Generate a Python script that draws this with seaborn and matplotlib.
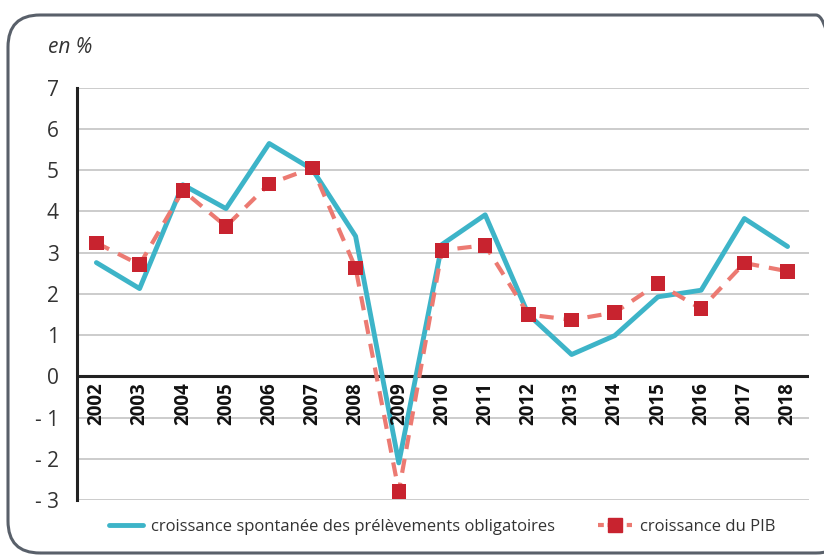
import pandas as pd
import matplotlib.pyplot as plt
import seaborn as sns
from matplotlib.patches import FancyBboxPatch
from matplotlib.lines import Line2D

# Data
years = list(range(2002, 2019))
spontanee = [2.76, 2.13, 4.65, 4.07, 5.65, 5.02, 3.40, -2.10, 3.20, 3.92,
             1.50, 0.53, 0.99, 1.93, 2.09, 3.83, 3.15]
pib = [3.24, 2.71, 4.51, 3.64, 4.67, 5.06, 2.63, -2.79, 3.06, 3.18,
       1.50, 1.37, 1.55, 2.25, 1.64, 2.75, 2.55]
label_spont = "croissance spontanée des prélèvements obligatoires"
label_pib = "croissance du PIB"
y_ticks = [-3, -2, -1, 0, 1, 2, 3, 4, 5, 6, 7]

df = pd.DataFrame({"annee": years, "spont": spontanee, "pib": pib})

teal = "#3DB4C8"
red_line = "#EC7A72"
red_mark = "#C8232F"

sns.set_style("white")
plt.rcParams['font.family'] = ['Open Sans', 'DejaVu Sans']

W, H = 824, 556
fig = plt.figure(figsize=(W / 100, H / 100), dpi=100)
ax = fig.add_axes([0.0934, 0.1007, 0.8886, 0.7413])

# grid lines
for t in y_ticks:
    ax.axhline(t, color="#c4c4c4", lw=1.2, zorder=0)
ax.axhline(0, color="#222222", lw=2.2, zorder=1)

sns.lineplot(data=df, x="annee", y="spont", ax=ax, color=teal, lw=3.5, zorder=3)
sns.lineplot(data=df, x="annee", y="pib", ax=ax, color=red_line, lw=3,
             linestyle=(0, (3.4, 2.4)), zorder=4)
sns.scatterplot(data=df, x="annee", y="pib", ax=ax, color=red_mark, marker="s",
                s=110, edgecolor="none", zorder=5)

ax.set_xlim(2001.55, 2018.5)
ax.set_ylim(-3, 7)
ax.set_yticks(y_ticks)
ax.set_yticklabels([("- %d" % -t) if t < 0 else str(t) for t in y_ticks],
                   fontsize=15, color="#333333")
ax.tick_params(axis="y", length=0, pad=13)
ax.set_xticks([])
ax.set_xlabel("")
ax.set_ylabel("")

for s in ["top", "right", "bottom"]:
    ax.spines[s].set_visible(False)
ax.spines["left"].set_color("#222222")
ax.spines["left"].set_linewidth(2.2)

# year labels under the zero line
for yr in years:
    ax.text(yr, -0.15, str(yr), rotation=90, ha="center", va="top",
            fontsize=13.5, fontweight="bold", color="#111111")

fig.text(0.058, 0.905, "en %", fontsize=15, style="italic", color="#333333")

handles = [
    Line2D([0], [0], color=teal, lw=3.5),
    Line2D([0], [0], color=red_line, lw=3, linestyle=(0, (1.4, 0.9)),
           marker="s", markersize=10, markerfacecolor=red_mark,
           markeredgecolor=red_mark),
]
fig.legend(handles, [label_spont, label_pib], loc="center",
           bbox_to_anchor=(0.537, 0.052), ncol=2, frameon=False,
           fontsize=12, handlelength=2.0, handletextpad=0.5,
           columnspacing=2.6, labelcolor="#333333")

# rounded frame, right side runs past the figure edge
frame = FancyBboxPatch((8 / W, 3 / H), 840 / W, 538 / H,
                       boxstyle="round,pad=0,rounding_size=%f" % (32 / W),
                       mutation_aspect=W / H, transform=fig.transFigure,
                       fill=False, edgecolor="#59606a", lw=2.2)
fig.add_artist(frame)

fig.savefig("out.png", dpi=100)
